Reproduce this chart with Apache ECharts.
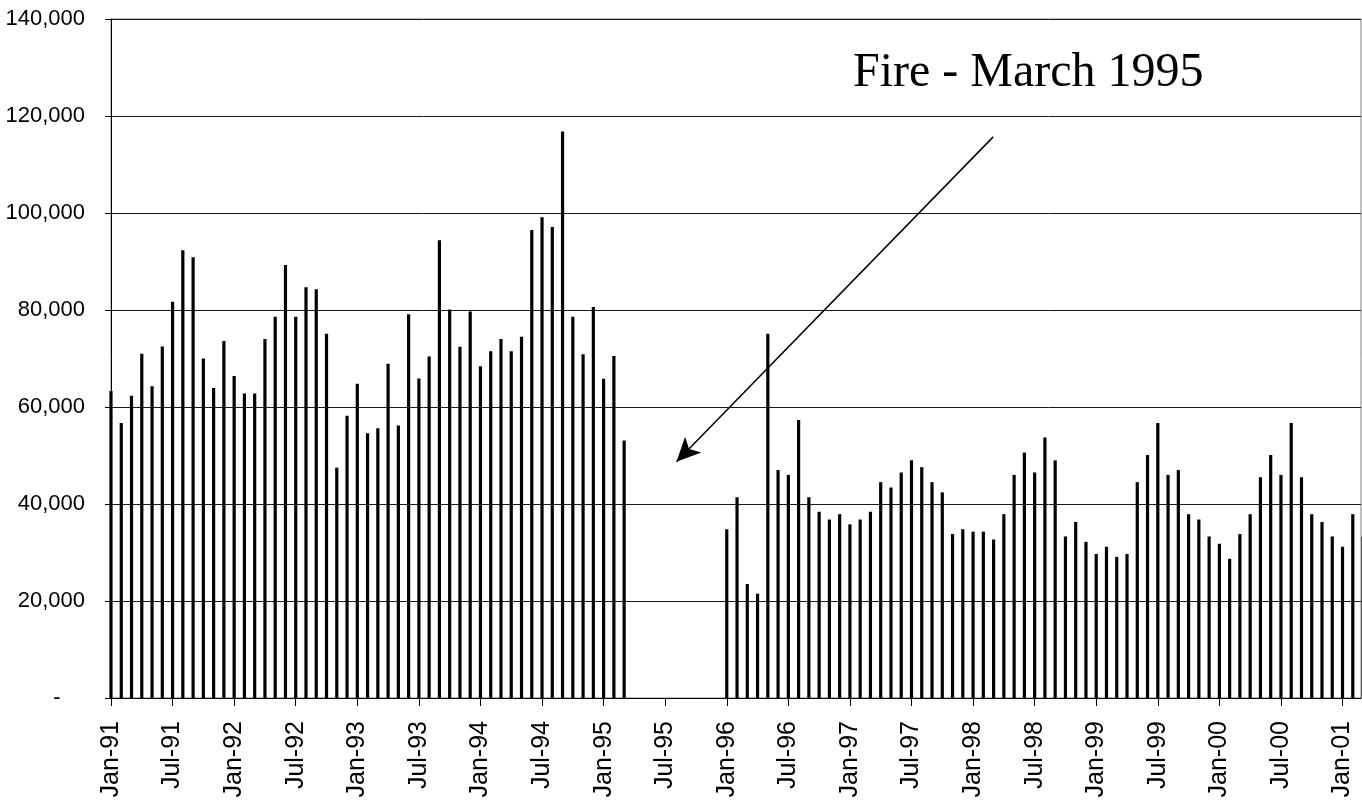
<!DOCTYPE html>
<html>
<head>
<meta charset="utf-8">
<script src="https://cdn.jsdelivr.net/npm/echarts@6/dist/echarts.min.js"></script>
<style>
html,body{margin:0;padding:0;background:#ffffff;}
#chart{width:1362px;height:803px;}
</style>
</head>
<body>
<div id="chart"></div>
<script>
// ---- Data (monthly values, Jan-91 .. Mar-01; null = no data after the fire) ----
const years = [1991, 1992, 1993, 1994, 1995, 1996, 1997, 1998, 1999, 2000, 2001];
const values1991 = [63300, 56700, 62300, 71000, 64300, 72500, 81700, 92300, 90900, 70000, 63900, 73600];
const values1992 = [66400, 62800, 62800, 74000, 78600, 89300, 78600, 84700, 84300, 75100, 47500, 58200];
const values1993 = [64800, 54600, 55600, 68900, 56200, 79100, 65900, 70400, 94400, 80100, 72400, 79700];
const values1994 = [68400, 71500, 74000, 71500, 74500, 96500, 99100, 97100, 116800, 78600, 70900, 80600];
const values1995 = [65800, 70500, 53100, null, null, null, null, null, null, null, null, null];
const values1996 = [34800, 41400, 23500, 21500, 75100, 47000, 46000, 57300, 41400, 38400, 36800, 37900];
const values1997 = [35800, 36800, 38400, 44500, 43400, 46500, 49000, 47600, 44500, 42400, 33800, 34800];
const values1998 = [34300, 34300, 32700, 37900, 46000, 50600, 46500, 53700, 49000, 33300, 36300, 32200];
const values1999 = [29700, 31200, 29100, 29700, 44500, 50100, 56700, 46000, 47000, 37900, 36800, 33300];
const values2000 = [31800, 28700, 33800, 37900, 45500, 50100, 46000, 56700, 45500, 37900, 36300, 33300];
const values2001 = [31200, 37900, 33300];

const xTickLabels = ['Jan-91','Jul-91','Jan-92','Jul-92','Jan-93','Jul-93','Jan-94','Jul-94',
  'Jan-95','Jul-95','Jan-96','Jul-96','Jan-97','Jul-97','Jan-98','Jul-98','Jan-99','Jul-99',
  'Jan-00','Jul-00','Jan-01'];
const yTickValues = [0, 20000, 40000, 60000, 80000, 100000, 120000, 140000];
const annotationText = 'Fire - March 1995';

// ---- Build series from the arrays ----
const valuesByYear = [values1991, values1992, values1993, values1994, values1995, values1996,
  values1997, values1998, values1999, values2000, values2001];
const barData = [];
valuesByYear.forEach(function (arr, yi) {
  arr.forEach(function (v, mi) {
    if (v !== null) barData.push([yi * 12 + mi, v]);
  });
});
const xTickPositions = xTickLabels.map(function (_, i) { return i * 6; });

const chart = echarts.init(document.getElementById('chart'), null, {renderer: 'canvas'});
chart.setOption({
  animation: false,
  backgroundColor: '#ffffff',
  grid: {
    left: 111, right: 1, top: 19, bottom: 105,
    containLabel: false, outerBoundsMode: 'none',
    show: true, borderColor: '#808080', borderWidth: 1
  },
  xAxis: {
    type: 'value',
    min: 0, max: 121.8, interval: 6,
    axisLine: {show: true, onZero: false, lineStyle: {color: '#000', width: 1}},
    axisTick: {show: true, length: 8, lineStyle: {color: '#000'}, customValues: xTickPositions},
    axisLabel: {
      show: true, rotate: 90, margin: 23,
      fontFamily: '"Liberation Sans", Arial, sans-serif', fontSize: 25, color: '#000',
      customValues: xTickPositions,
      formatter: function (v) {
        const i = Math.round(v / 6);
        return (Math.abs(v - i * 6) < 1e-6 && xTickLabels[i]) ? xTickLabels[i] : '';
      }
    },
    splitLine: {show: false}
  },
  yAxis: {
    type: 'value',
    min: 0, max: 140000, interval: 20000,
    axisLine: {show: true, lineStyle: {color: '#000', width: 1}},
    axisTick: {show: true, length: 6, lineStyle: {color: '#000'}, customValues: yTickValues},
    axisLabel: {
      show: true, margin: 26,
      fontFamily: '"Liberation Sans", Arial, sans-serif', fontSize: 22, color: '#000',
      customValues: yTickValues,
      formatter: function (v) {
        return v === 0 ? '-\u00a0\u00a0\u00a0\u00a0' : v.toLocaleString('en-US');
      }
    },
    splitLine: {show: true, lineStyle: {color: '#1a1a1a', width: 1}}
  },
  series: [{
    type: 'bar',
    data: barData,
    barWidth: 3.2,
    clip: true,
    itemStyle: {color: '#000'},
    markLine: {
      silent: true,
      symbol: ['none', 'arrow'],
      symbolSize: [17, 24],
      label: {show: false},
      lineStyle: {color: '#000', width: 1.5, type: 'solid'},
      data: [[{coord: [85.96, 115700]}, {coord: [55.1, 48700]}]]
    }
  }],
  graphic: [{
    type: 'text',
    left: 853, top: 49,
    style: {
      text: annotationText,
      font: '48px "Liberation Serif", "Times New Roman", serif',
      fill: '#000'
    }
  }]
});
</script>
</body>
</html>
